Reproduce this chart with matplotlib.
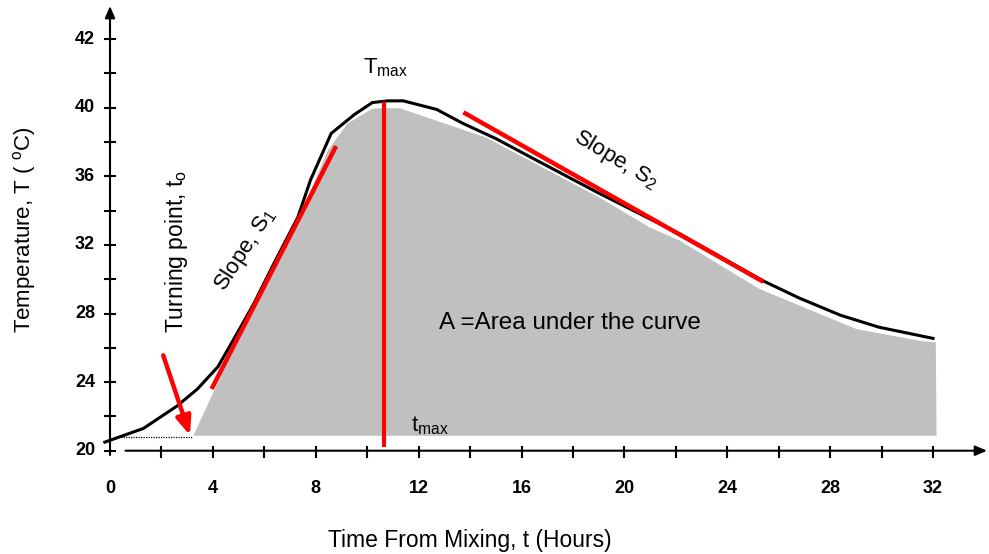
import matplotlib
matplotlib.use("Agg")
import matplotlib.pyplot as plt
from matplotlib import transforms

plt.rcParams['font.family'] = ['Liberation Sans', 'DejaVu Sans']
plt.rcParams['mathtext.fontset'] = 'custom'
plt.rcParams['mathtext.rm'] = 'Liberation Sans'
plt.rcParams['mathtext.it'] = 'Liberation Sans:italic'

# temperature curve (time in hours, temperature as plotted)
curve_t = [-0.2, 1.3, 2.6, 3.4, 4.2, 5.0, 5.6, 6.4, 7.3, 7.8, 8.6, 9.5, 10.2, 10.8,
           11.4, 12.7, 13.7, 15.0, 16.5, 18.9, 22.2, 25.4, 26.8, 28.4, 29.9, 32.0]
curve_T = [20.5, 21.3, 22.6, 23.6, 24.9, 27.0, 28.6, 31.0, 33.6, 35.8, 38.5, 39.6, 40.3, 40.4,
           40.4, 39.9, 39.1, 38.2, 37.0, 35.1, 32.6, 29.9, 28.9, 27.9, 27.2, 26.55]

# shaded area under the curve
area_t = [3.19, 4.73, 7.12, 8.43, 9.2, 10.2, 10.76, 11.27, 14.64, 19.05, 21.0, 22.16,
          25.27, 29.03, 31.5, 32.14, 32.17]
area_T = [20.82, 25.85, 32.87, 37.5, 39.1, 40.0, 40.02, 40.02, 38.3, 34.8, 33.06, 32.3,
          29.47, 27.14, 26.45, 26.36, 20.82]

# red construction lines
s1_t, s1_T = [3.95, 8.79], [23.6, 37.76]
s2_t, s2_T = [13.74, 25.4], [39.73, 29.85]
t_max, T_peak, base_T = 10.67, 40.35, 20.82
t_turn = 3.19
arrow_from = (2.07, 25.56)
arrow_to = (3.11, 20.9)

# axis ticks and labels (schematic axis: top label reads 42)
x_minor = list(range(2, 33, 2))
x_labels = [0, 4, 8, 12, 16, 20, 24, 28, 32]
y_ticks = list(range(20, 45, 2))
y_label_pos = [20, 24, 28, 32, 36, 40, 44]
y_label_txt = ['20', '24', '28', '32', '36', '40', '42']

fig = plt.figure(figsize=(9.89, 5.54), dpi=100)
ax = fig.add_axes([0, 0, 1, 1])
ax.set_xlim(-4.277, 34.176)
ax.set_ylim(13.977, 46.28)
ax.axis('off')

red = '#ff0000'

ax.fill(area_t, area_T, facecolor='#c0c0c0', edgecolor='white', lw=1.2, zorder=1)
ax.plot([0.31, t_turn], [base_T, base_T], color='k', lw=0.9, ls=(0, (1, 1)), zorder=2)
ax.plot(curve_t, curve_T, color='k', lw=2.2, zorder=3)

ax.plot(s1_t, s1_T, color=red, lw=3.2, solid_capstyle='butt', zorder=4)
ax.plot(s2_t, s2_T, color=red, lw=3.2, solid_capstyle='butt', zorder=4)
ax.vlines(t_max, 20.23, T_peak, color=red, lw=3.0, zorder=4)
ax.annotate('', xy=arrow_to, xytext=arrow_from,
            arrowprops=dict(arrowstyle='-|>,head_length=1.1,head_width=0.45',
                            color=red, lw=3.2, shrinkA=0, shrinkB=0), zorder=4)

# axes with arrow heads
ax.annotate('', xy=(0.0, 45.93), xytext=(0.0, 19.75),
            arrowprops=dict(arrowstyle='-|>,head_length=0.7,head_width=0.3',
                            color='k', lw=1.5, shrinkA=0, shrinkB=0))
ax.annotate('', xy=(34.1, 20.0), xytext=(0.6, 20.0),
            arrowprops=dict(arrowstyle='-|>,head_length=0.7,head_width=0.3',
                            color='k', lw=1.5, shrinkA=0, shrinkB=0))
ax.vlines(x_minor, 19.57, 20.27, color='k', lw=1.5)
ax.hlines(y_ticks, -0.23, 0.23, color='k', lw=1.5)

xoff = transforms.offset_copy(ax.transData, fig=fig, x=0, y=-37.5, units='dots')
for v in x_labels:
    ax.text(v, 20, str(v), transform=xoff, ha='center', va='center',
            fontsize=13, fontweight='bold')
yoff = transforms.offset_copy(ax.transData, fig=fig, x=-15, y=0, units='dots')
for v, s in zip(y_label_pos, y_label_txt):
    ax.text(0, v, s, transform=yoff, ha='right', va='center',
            fontsize=13, fontweight='bold')

ax.text(14.0, 14.79, 'Time From Mixing, t (Hours)', ha='center', va='center', fontsize=16.5)
ax.text(-3.305, 32.87, r'Temperature, T ( $^{\mathrm{o}}$C)', ha='center', va='center',
        rotation=90, fontsize=16)
ax.text(2.6, 31.64, r'Turning point, t$_{\mathrm{o}}$', ha='center', va='center',
        rotation=90, fontsize=16.5)
ax.text(5.25, 31.69, r'Slope, S$_{\mathrm{1}}$', ha='center', va='center',
        rotation=57, fontsize=16, rotation_mode='anchor')
ax.text(19.67, 36.95, r'Slope, S$_{\mathrm{2}}$', ha='center', va='center',
        rotation=-31, fontsize=16, rotation_mode='anchor')
ax.text(10.73, 42.36, r'T$_{\mathrm{max}}$', ha='center', va='center', fontsize=16)
ax.text(12.44, 21.45, r't$_{\mathrm{max}}$', ha='center', va='center', fontsize=16)
ax.text(17.9, 27.44, 'A =Area under the curve', ha='center', va='center', fontsize=17.5)

fig.savefig('out.png', dpi=100)
